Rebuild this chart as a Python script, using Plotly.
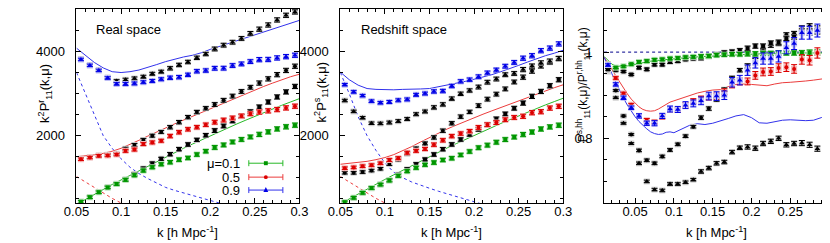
import plotly.graph_objects as go

# ---------------- data ----------------
k_pts = [0.055, 0.065, 0.075, 0.085, 0.095, 0.105, 0.115, 0.125, 0.135, 0.145, 0.155, 0.165, 0.175,
         0.185, 0.195, 0.205, 0.215, 0.225, 0.235, 0.245, 0.255, 0.265, 0.275, 0.285, 0.295]
p_err = [30, 30, 30, 30, 30, 35, 35, 35, 35, 35, 40, 40, 40, 40, 40, 45, 45, 45, 45, 45, 50, 50, 50, 50, 50]

# real space k^2 P^r_11
p1_green = [427, 537, 655, 770, 850, 950, 1060, 1170, 1250, 1320, 1370, 1430, 1470, 1550, 1630, 1720, 1780,
            1850, 1910, 1970, 2030, 2090, 2160, 2210, 2250]
p1_red = [1440, 1480, 1520, 1530, 1550, 1640, 1670, 1800, 1840, 1880, 1990, 2080, 2150, 2200, 2260, 2320, 2370,
          2420, 2470, 2520, 2560, 2590, 2620, 2660, 2700]
p1_blue = [3810, 3670, 3550, 3370, 3230, 3230, 3240, 3270, 3300, 3340, 3375, 3390, 3445, 3530, 3547, 3600, 3603,
           3666, 3705, 3760, 3807, 3810, 3847, 3878, 3910]
p1_blk_tri = [3820, 3680, 3560, 3380, 3300, 3330, 3360, 3400, 3470, 3520, 3600, 3680, 3750, 3850, 3940, 4060, 4150,
              4220, 4310, 4430, 4530, 4630, 4750, 4860, 4940]
p1_blk_circ = [1450, 1490, 1530, 1545, 1570, 1690, 1780, 1900, 2000, 2090, 2200, 2320, 2440, 2560, 2650, 2740, 2840,
               2940, 3050, 3150, 3250, 3350, 3450, 3550, 3650]
p1_blk_sq = [430, 540, 660, 775, 860, 960, 1090, 1220, 1340, 1450, 1560, 1680, 1790, 1900, 2010, 2120, 2230, 2350,
             2460, 2570, 2680, 2800, 2920, 3040, 3170]

# redshift space k^2 P^s_11
p2_green = [417, 526, 643, 757, 837, 937, 1047, 1157, 1238, 1308, 1360, 1421, 1463, 1542, 1623, 1713, 1775, 1844,
            1906, 1966, 2026, 2086, 2158, 2208, 2248]
p2_red = [1227, 1246, 1274, 1300, 1344, 1420, 1465, 1595, 1640, 1685, 1787, 1889, 1989, 2050, 2106, 2195, 2261, 2311,
          2379, 2432, 2460, 2546, 2570, 2655, 2697]
p2_blue = [3210, 3040, 2950, 2820, 2780, 2800, 2840, 2860, 2970, 3000, 3050, 3060, 3180, 3290, 3330, 3400, 3490,
           3560, 3650, 3740, 3840, 3900, 4020, 4080, 4180]
p2_blk_tri = [2834, 2576, 2424, 2295, 2290, 2311, 2345, 2394, 2509, 2573, 2671, 2742, 2880, 2995, 3073, 3155, 3270,
              3346, 3448, 3478, 3570, 3653, 3729, 3771, 3833]
p2_blk_circ = [1119, 1116, 1135, 1171, 1214, 1328, 1433, 1571, 1696, 1816, 1958, 2118, 2294, 2452, 2565, 2713, 2868,
               2987, 3111, 3276, 3390, 3534, 3657, 3745, 3833]
p2_blk_sq = [415, 518, 641, 753, 840, 940, 1071, 1202, 1321, 1435, 1552, 1678, 1792, 1908, 2028, 2150, 2261, 2399,
             2517, 2652, 2774, 2934, 3051, 3186, 3329]

# theory curves (panels 1 and 2)
k_line = [0.05, 0.06, 0.07, 0.08, 0.09, 0.10, 0.11, 0.12, 0.13, 0.14, 0.15, 0.16, 0.17, 0.18, 0.19, 0.20, 0.21,
          0.22, 0.23, 0.24, 0.25, 0.26, 0.27, 0.28, 0.29, 0.30]
p1_line_green = [365, 490, 610, 720, 840, 950, 1060, 1170, 1280, 1390, 1500, 1600, 1700, 1800, 1900, 2000, 2100,
                 2190, 2280, 2370, 2460, 2550, 2640, 2720, 2800, 2880]
p1_line_red = [1500, 1520, 1545, 1580, 1630, 1700, 1790, 1890, 1990, 2090, 2190, 2280, 2370, 2460, 2550, 2640, 2730,
               2820, 2910, 3000, 3090, 3170, 3250, 3330, 3400, 3460]
p1_line_blue = [4080, 3900, 3740, 3610, 3520, 3500, 3520, 3560, 3620, 3690, 3760, 3820, 3870, 3910, 3970, 4050, 4120,
                4190, 4260, 4320, 4390, 4460, 4530, 4600, 4680, 4740]
p2_line_green = [380, 500, 620, 730, 850, 960, 1070, 1180, 1290, 1400, 1510, 1610, 1710, 1810, 1910, 2010, 2110,
                 2200, 2290, 2380, 2470, 2560, 2650, 2730, 2810, 2890]
p2_line_red = [1320, 1340, 1360, 1390, 1430, 1480, 1550, 1640, 1740, 1850, 1960, 2060, 2160, 2250, 2340, 2430, 2510,
               2590, 2670, 2750, 2830, 2910, 2990, 3060, 3140, 3210]
p2_line_blue = [3510, 3330, 3200, 3120, 3100, 3090, 3090, 3100, 3100, 3110, 3120, 3160, 3200, 3240, 3290, 3340, 3390,
                3450, 3520, 3590, 3670, 3750, 3830, 3900, 3960, 4030]

k_dash_blue = [0.05, 0.06, 0.07, 0.08, 0.09, 0.10, 0.11, 0.12, 0.13, 0.14, 0.15, 0.16, 0.17, 0.18, 0.19, 0.20,
               0.21, 0.22, 0.23, 0.24]
p1_dash_blue = [3500, 3000, 2500, 2000, 1700, 1450, 1250, 1100, 980, 870, 770, 700, 640, 580, 520, 460, 400, 340,
                280, 220]
p2_dash_blue = [3500, 3000, 2450, 2000, 1650, 1350, 1130, 1000, 900, 820, 750, 680, 620, 560, 500, 430, 370, 300,
                240, 180]
k_dash_red = [0.05, 0.06, 0.07, 0.08, 0.09, 0.10, 0.11, 0.12]
p1_dash_red = [1030, 900, 760, 630, 510, 400, 300, 200]
p2_dash_red = [1030, 900, 760, 630, 510, 400, 300, 200]

# ratio panel P^s/P^r
k_ratio = [0.015, 0.025, 0.035, 0.045, 0.055, 0.065, 0.075, 0.085, 0.095, 0.105, 0.115, 0.125, 0.135, 0.145,
           0.155, 0.165, 0.175, 0.185, 0.195, 0.205, 0.215, 0.225, 0.235, 0.245, 0.255, 0.265, 0.275, 0.285, 0.295]
r_green = [0.972, 0.964, 0.967, 0.972, 0.977, 0.979, 0.982, 0.983, 0.985, 0.986, 0.988, 0.989, 0.99, 0.991, 0.993,
           0.994, 0.995, 0.995, 0.996, 0.996, 0.997, 0.997, 0.998, 0.998, 0.998, 0.998, 0.999, 0.999, 0.999]
r_red = [0.971, 0.94, 0.904, 0.878, 0.852, 0.842, 0.838, 0.85, 0.867, 0.866, 0.877, 0.886, 0.892, 0.896, 0.898,
         0.908, 0.925, 0.932, 0.932, 0.946, 0.954, 0.955, 0.963, 0.965, 0.961, 0.983, 0.981, 0.998, 0.999]
r_blue = [0.97, 0.925, 0.894, 0.871, 0.852, 0.835, 0.835, 0.852, 0.868, 0.867, 0.877, 0.881, 0.887, 0.898, 0.898,
          0.9, 0.93, 0.935, 0.958, 0.975, 0.985, 0.985, 0.99, 1.01, 1.02, 1.045, 1.045, 1.05, 1.07]
r_blk_sq = [0.96, 0.958, 0.955, 0.948, 0.964, 0.96, 0.971, 0.971, 0.977, 0.979, 0.983, 0.985, 0.986, 0.99, 0.995,
            0.999, 1.001, 1.004, 1.009, 1.014, 1.014, 1.021, 1.023, 1.032, 1.035, 1.048, 1.045, 1.048, 1.05]
r_blk_circ = [0.958, 0.911, 0.852, 0.809, 0.772, 0.749, 0.742, 0.758, 0.773, 0.786, 0.805, 0.827, 0.848, 0.869,
              0.89, 0.913, 0.94, 0.958, 0.968, 0.99, 1.01, 1.016, 1.02, 1.04, 1.043, 1.055, 1.06, 1.055, 1.05]
r_blk_tri = [0.955, 0.894, 0.835, 0.788, 0.742, 0.7, 0.681, 0.679, 0.694, 0.694, 0.698, 0.704, 0.723, 0.731, 0.742,
             0.745, 0.768, 0.778, 0.78, 0.777, 0.788, 0.793, 0.8, 0.785, 0.788, 0.789, 0.785, 0.776, 0.776]
r_err_small = [0.002, 0.002, 0.002, 0.002, 0.003, 0.003, 0.003, 0.003, 0.003, 0.003, 0.003, 0.003, 0.004, 0.004,
               0.004, 0.004, 0.004, 0.004, 0.005, 0.005, 0.005, 0.005, 0.005, 0.005, 0.005, 0.006, 0.006, 0.006, 0.006]
r_err_red = [0.003, 0.003, 0.003, 0.003, 0.004, 0.004, 0.004, 0.005, 0.005, 0.005, 0.006, 0.006, 0.006, 0.007,
             0.007, 0.007, 0.008, 0.008, 0.008, 0.009, 0.009, 0.009, 0.01, 0.01, 0.01, 0.011, 0.011, 0.012, 0.012]
r_err_blue = [0.003, 0.004, 0.004, 0.004, 0.005, 0.005, 0.006, 0.006, 0.007, 0.007, 0.008, 0.008, 0.009, 0.009,
              0.01, 0.01, 0.011, 0.011, 0.012, 0.012, 0.013, 0.013, 0.013, 0.014, 0.014, 0.015, 0.015, 0.015, 0.016]

k_ratio_line = [0.01, 0.015, 0.02, 0.025, 0.03, 0.035, 0.04, 0.045, 0.05, 0.055, 0.06, 0.065, 0.07, 0.075, 0.08,
                0.085, 0.09, 0.095, 0.1, 0.11, 0.12, 0.13, 0.14, 0.15, 0.16, 0.17, 0.18, 0.19, 0.2, 0.21, 0.22,
                0.23, 0.24, 0.25, 0.26, 0.27, 0.28, 0.29, 0.3]
r_line_green = [0.99, 0.98, 0.972, 0.968, 0.967, 0.967, 0.968, 0.97, 0.972, 0.974, 0.976, 0.978, 0.979, 0.98, 0.981,
                0.982, 0.983, 0.984, 0.985, 0.987, 0.988, 0.989, 0.99, 0.991, 0.992, 0.993, 0.994, 0.995, 0.995,
                0.996, 0.996, 0.997, 0.997, 0.997, 0.998, 0.998, 0.998, 0.998, 0.998]
r_line_red = [0.988, 0.975, 0.96, 0.945, 0.93, 0.917, 0.903, 0.891, 0.881, 0.873, 0.867, 0.864, 0.863, 0.864, 0.868,
              0.874, 0.879, 0.884, 0.887, 0.893, 0.899, 0.905, 0.909, 0.912, 0.913, 0.92, 0.925, 0.926, 0.925,
              0.923, 0.922, 0.926, 0.929, 0.93, 0.931, 0.933, 0.935, 0.938, 0.94]
r_line_blue = [0.988, 0.97, 0.95, 0.93, 0.91, 0.893, 0.877, 0.862, 0.85, 0.839, 0.83, 0.822, 0.815, 0.811, 0.809,
               0.81, 0.814, 0.815, 0.813, 0.822, 0.83, 0.834, 0.832, 0.835, 0.84, 0.846, 0.852, 0.855, 0.848,
               0.836, 0.835, 0.838, 0.842, 0.843, 0.842, 0.841, 0.842, 0.848, 0.856]
k_unity = [0.01, 0.3]
r_unity = [1.0, 1.0]

legend_labels = ["μ=0.1", "0.5", "0.9"]

# ---------------- styling ----------------
FONT = "Liberation Sans, Arial, Helvetica, sans-serif"
W, H = 830, 243
PLOT_BOTTOM = 195
GREEN, RED, BLUE, BLACK = "rgb(0,150,0)", "rgb(220,0,0)", "rgb(0,0,230)", "rgb(0,0,0)"
LGREEN, LRED, LBLUE, LGREY = "rgb(175,225,175)", "rgb(245,185,185)", "rgb(190,190,245)", "rgb(212,212,212)"
CGREEN, CRED, CBLUE = "rgb(40,185,40)", "rgb(235,60,60)", "rgb(50,50,235)"


def px(x):
    return x / W


def py(y):
    return (PLOT_BOTTOM - y) / PLOT_BOTTOM


fig = go.Figure()


def add_line(xa, ya, k, v, color, dash="solid"):
    fig.add_trace(go.Scatter(x=k, y=v, xaxis=xa, yaxis=ya, mode="lines", showlegend=False,
                             line=dict(color=color, width=1, dash=dash), hoverinfo="skip"))


def add_points(xa, ya, k, v, err, color, light, symbol, size=4):
    # light shadow behind each point
    fig.add_trace(go.Scatter(x=k, y=v, xaxis=xa, yaxis=ya, mode="markers", showlegend=False,
                             marker=dict(symbol="square", size=6, color=light),
                             error_y=dict(type="data", array=err, color=light, thickness=3, width=0),
                             hoverinfo="skip"))
    fig.add_trace(go.Scatter(x=k, y=v, xaxis=xa, yaxis=ya, mode="markers", showlegend=False,
                             marker=dict(symbol=symbol, size=size, color=color, line=dict(width=0)),
                             error_y=dict(type="data", array=err, color=color, thickness=1, width=3)))


# panel 1
add_line("x", "y", k_dash_blue, p1_dash_blue, CBLUE, "3px,3px")
add_line("x", "y", k_dash_red, p1_dash_red, CRED, "3px,3px")
add_line("x", "y", k_line, p1_line_green, CGREEN)
add_line("x", "y", k_line, p1_line_red, CRED)
add_line("x", "y", k_line, p1_line_blue, CBLUE)
add_points("x", "y", k_pts, p1_blk_sq, p_err, BLACK, LGREY, "square")
add_points("x", "y", k_pts, p1_blk_circ, p_err, BLACK, LGREY, "circle")
add_points("x", "y", k_pts, p1_blk_tri, p_err, BLACK, LGREY, "triangle-up", 5)
add_points("x", "y", k_pts, p1_green, p_err, GREEN, LGREEN, "square")
add_points("x", "y", k_pts, p1_red, p_err, RED, LRED, "circle")
add_points("x", "y", k_pts, p1_blue, p_err, BLUE, LBLUE, "triangle-up", 5)

# panel 2
add_line("x2", "y2", k_dash_blue, p2_dash_blue, CBLUE, "3px,3px")
add_line("x2", "y2", k_dash_red, p2_dash_red, CRED, "3px,3px")
add_line("x2", "y2", k_line, p2_line_green, CGREEN)
add_line("x2", "y2", k_line, p2_line_red, CRED)
add_line("x2", "y2", k_line, p2_line_blue, CBLUE)
add_points("x2", "y2", k_pts, p2_blk_sq, p_err, BLACK, LGREY, "square")
add_points("x2", "y2", k_pts, p2_blk_circ, p_err, BLACK, LGREY, "circle")
add_points("x2", "y2", k_pts, p2_blk_tri, p_err, BLACK, LGREY, "triangle-up", 5)
add_points("x2", "y2", k_pts, p2_green, p_err, GREEN, LGREEN, "square")
add_points("x2", "y2", k_pts, p2_red, p_err, RED, LRED, "circle")
add_points("x2", "y2", k_pts, p2_blue, p_err, BLUE, LBLUE, "triangle-up", 5)

# panel 3
add_line("x3", "y3", k_unity, r_unity, "rgb(0,0,140)", "3px,3px")
add_line("x3", "y3", k_ratio_line, r_line_green, CGREEN)
add_line("x3", "y3", k_ratio_line, r_line_red, CRED)
add_line("x3", "y3", k_ratio_line, r_line_blue, CBLUE)
add_points("x3", "y3", k_ratio, r_blk_tri, r_err_small, BLACK, LGREY, "triangle-up", 5)
add_points("x3", "y3", k_ratio, r_blk_circ, r_err_small, BLACK, LGREY, "circle")
add_points("x3", "y3", k_ratio, r_blk_sq, r_err_small, BLACK, LGREY, "square")
add_points("x3", "y3", k_ratio, r_green, r_err_small, GREEN, LGREEN, "square")
add_points("x3", "y3", k_ratio, r_red, r_err_red, RED, LRED, "circle")
add_points("x3", "y3", k_ratio, r_blue, r_err_blue, BLUE, LBLUE, "triangle-up", 5)


def axis(domain, rng, dtick, minor_dtick, anchor, **kw):
    d = dict(domain=domain, range=rng, dtick=dtick, tick0=0, anchor=anchor,
             showline=True, linecolor="black", linewidth=1, mirror="ticks",
             ticks="inside", ticklen=5, tickwidth=1, tickcolor="black",
             minor=dict(dtick=minor_dtick, tick0=0, ticks="inside", ticklen=3, tickcolor="black", showgrid=False),
             showgrid=False, zeroline=False,
             tickfont=dict(family=FONT, size=13, color="black"))
    d.update(kw)
    return d


d1 = [px(57), px(286)]
d2 = [px(328), px(557)]
d3 = [px(599), 1.0]
yr = [400, 5010]

fig.update_layout(
    width=W, height=H,
    margin=dict(l=0, r=0, t=0, b=H - PLOT_BOTTOM),
    paper_bgcolor="white", plot_bgcolor="white",
    showlegend=False,
    xaxis=axis(d1, [0.05, 0.3], 0.05, 0.01, "y", ticklabelstandoff=-4),
    yaxis=axis([0, 1], yr, 2000, 500, "x", tickformat="d", ticklabelstandoff=8),
    xaxis2=axis(d2, [0.05, 0.3], 0.05, 0.01, "y2", ticklabelstandoff=-4),
    yaxis2=axis([0, 1], yr, 2000, 500, "x2", tickformat="d", ticklabelstandoff=8),
    xaxis3=axis(d3, [0.01, 0.3], 0.05, 0.01, "y3", ticklabelstandoff=-4),
    yaxis3=axis([0, 1], [0.65, 1.1], 0.2, 0.05, "x3", ticklabelstandoff=8),
)

ann = []


def text(x, y, s, xanchor="center", angle=0, size=13):
    ann.append(dict(x=px(x), y=py(y), xref="paper", yref="paper", text=s, showarrow=False,
                    xanchor=xanchor, yanchor="middle", textangle=angle,
                    font=dict(family=FONT, size=size, color="black")))


text(24, 85, "k<sup>2</sup>P<sup>r</sup><sub>11</sub>(k,μ)", angle=-90)
text(308, 83, "k<sup>2</sup>P<sup>s</sup><sub>11</sub>(k,μ)", angle=-90)
text(577, 76, "P<sup>s,hh</sup><sub>11</sub>(k,μ)/P<sup>r,hh</sup><sub>11</sub>(k,μ)", angle=-90, size=12)
for cx in (171.5, 442.5, 714.5):
    text(cx, 224, "k [h Mpc<sup>-1</sup>]")
text(75, 21, "Real space", xanchor="left")
text(347, 21, "Redshift space", xanchor="left")

# hand-made legend (gnuplot style: label then sample)
shapes = []
leg_rows = [(155, GREEN, "square"), (169, RED, "circle"), (182, BLUE, "triangle")]
for (ly, col, sym), lab in zip(leg_rows, legend_labels):
    text(227, ly, lab, xanchor="right")
    lcol = {GREEN: CGREEN, RED: CRED, BLUE: CBLUE}[col]
    shapes.append(dict(type="line", xref="paper", yref="paper", x0=px(234), x1=px(269), y0=py(ly), y1=py(ly),
                       line=dict(color=lcol, width=1)))
    for cx in (234, 269):
        shapes.append(dict(type="line", xref="paper", yref="paper", x0=px(cx), x1=px(cx),
                           y0=py(ly - 3), y1=py(ly + 3), line=dict(color=lcol, width=1)))
    if sym == "square":
        shapes.append(dict(type="rect", xref="paper", yref="paper", x0=px(249.5), x1=px(253.5),
                           y0=py(ly + 2), y1=py(ly - 2), fillcolor=col, line=dict(width=0)))
    elif sym == "circle":
        shapes.append(dict(type="circle", xref="paper", yref="paper", x0=px(249.5), x1=px(253.5),
                           y0=py(ly + 2), y1=py(ly - 2), fillcolor=col, line=dict(width=0)))
    else:
        shapes.append(dict(type="path", xref="paper", yref="paper",
                           path=f"M {px(249)},{py(ly + 2)} L {px(254)},{py(ly + 2)} L {px(251.5)},{py(ly - 3)} Z",
                           fillcolor=col, line=dict(width=0)))

fig.update_layout(annotations=ann, shapes=shapes)
fig.write_html("out.html")
